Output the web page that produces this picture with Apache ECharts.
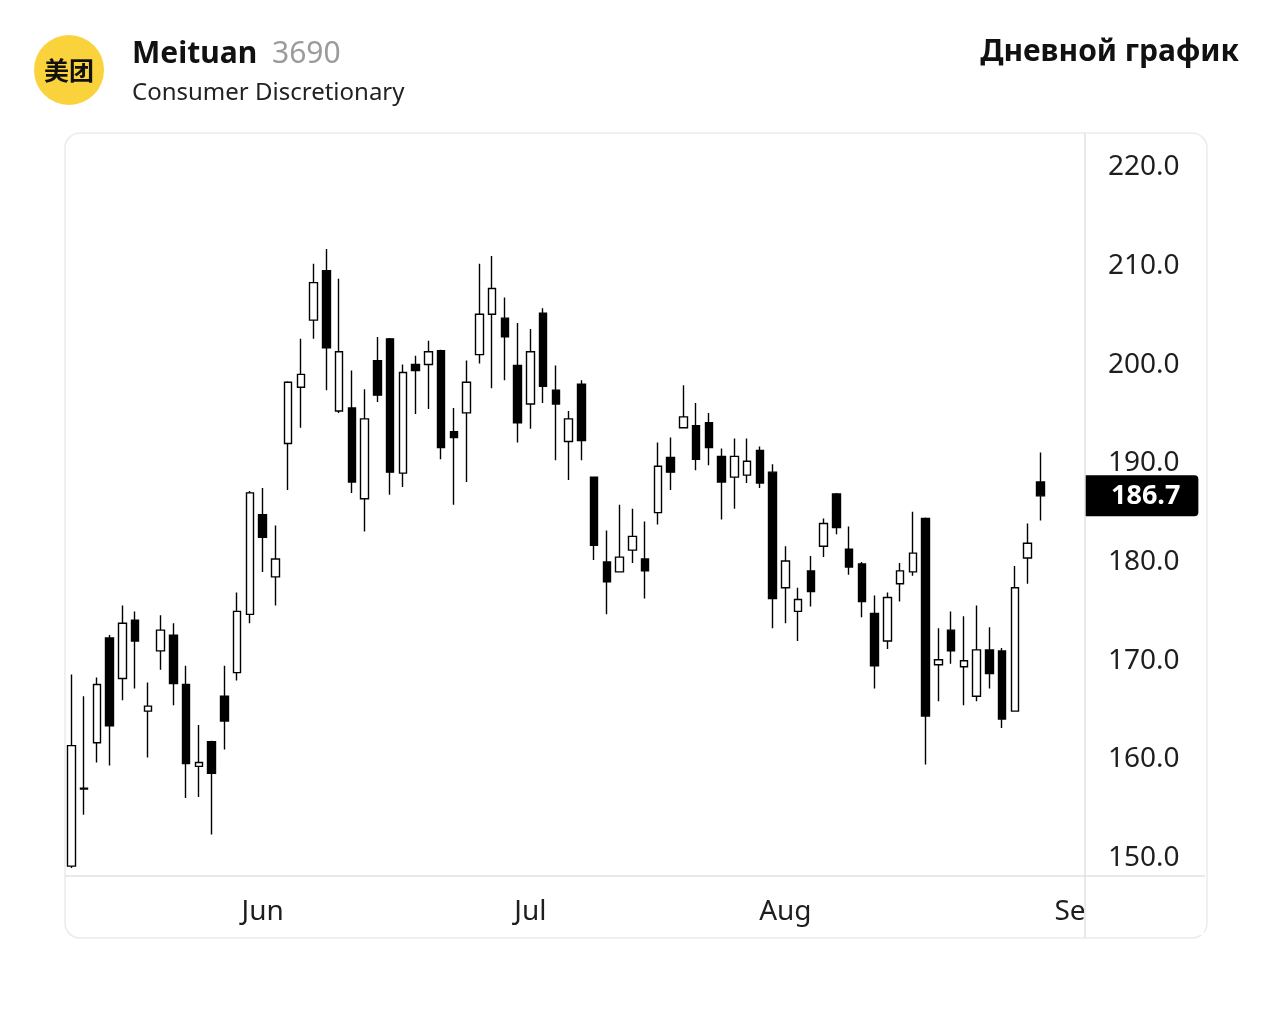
<!DOCTYPE html>
<html>
<head>
<meta charset="utf-8">
<title>Meituan 3690</title>
<script src="https://cdn.jsdelivr.net/npm/echarts@6/dist/echarts.min.js"></script>
<style>
  html, body { margin: 0; padding: 0; background: #fff; }
  #chart { width: 1273px; height: 1035px; }
</style>
</head>
<body>
<div id="chart"></div>
<script>
// торговые дни (последние 3 - пустые слоты справа)
var dates = [
  '2022-05-11','2022-05-12','2022-05-13','2022-05-16','2022-05-17','2022-05-18','2022-05-19','2022-05-20',
  '2022-05-23','2022-05-24','2022-05-25','2022-05-26','2022-05-27','2022-05-30','2022-05-31',
  '2022-06-01','2022-06-02','2022-06-06','2022-06-07','2022-06-08','2022-06-09','2022-06-10',
  '2022-06-13','2022-06-14','2022-06-15','2022-06-16','2022-06-17','2022-06-20','2022-06-21',
  '2022-06-22','2022-06-23','2022-06-24','2022-06-27','2022-06-28','2022-06-29','2022-06-30',
  '2022-07-04','2022-07-05','2022-07-06','2022-07-07','2022-07-08','2022-07-11','2022-07-12',
  '2022-07-13','2022-07-14','2022-07-15','2022-07-18','2022-07-19','2022-07-20','2022-07-21',
  '2022-07-22','2022-07-25','2022-07-26','2022-07-27','2022-07-28','2022-07-29',
  '2022-08-01','2022-08-02','2022-08-03','2022-08-04','2022-08-05','2022-08-08','2022-08-09',
  '2022-08-10','2022-08-11','2022-08-12','2022-08-15','2022-08-16','2022-08-17','2022-08-18',
  '2022-08-19','2022-08-22','2022-08-23','2022-08-24','2022-08-25','2022-08-26','2022-08-29',
  '2022-08-30','2022-08-31','2022-09-01'
];

var opens = [
  149.2,157.0,161.7,172.3,168.2,174.1,164.9,171.0,172.6,167.6,159.3,161.8,166.4,168.8,174.7,
  184.8,178.5,192.0,197.7,204.5,209.5,195.3,195.6,186.4,200.4,202.6,189.0,200.0,200.0,201.4,
  193.2,195.1,201.0,205.1,204.7,199.9,
  196.0,205.2,197.4,192.2,198.0,188.6,180.0,179.0,181.2,180.3,185.0,190.6,193.6,193.8,194.1,
  190.7,188.6,188.8,191.3,189.1,
  177.4,175.0,179.1,181.6,186.9,181.3,179.8,174.8,172.0,177.8,179.0,184.4,169.6,173.1,169.4,
  166.4,171.1,171.0,164.9,180.4,188.1
];
var closes = [
  161.4,157.1,167.6,163.4,173.8,172.0,165.4,173.1,167.7,159.6,159.7,158.6,163.9,175.0,187.0,
  182.5,180.3,198.2,199.0,208.3,201.7,201.3,188.1,194.5,196.9,189.1,199.2,199.4,201.3,191.6,
  192.6,198.2,205.1,207.7,202.8,194.1,
  201.3,197.8,196.0,194.5,192.3,181.7,178.0,180.5,182.6,179.1,189.7,189.1,194.7,190.4,191.6,
  188.1,190.7,190.2,188.0,176.3,
  180.1,176.2,177.0,183.9,183.5,179.5,176.0,169.5,176.4,179.1,180.9,164.4,170.1,171.0,170.0,
  171.1,168.7,164.1,177.4,181.9,186.7
];
var lows = [
  149.0,154.4,159.7,159.4,166.0,167.2,160.2,169.1,165.5,156.1,156.2,152.4,161.0,168.0,173.8,
  179.0,175.6,187.3,193.6,202.6,197.4,195.1,187.0,183.1,196.2,186.8,187.6,195.0,195.5,190.4,
  185.8,188.1,200.1,197.6,198.4,192.1,
  193.5,196.1,190.3,188.3,190.3,180.2,174.7,179.0,179.9,176.3,183.8,187.3,193.6,189.3,189.8,
  184.3,185.4,188.0,187.5,173.3,
  173.8,172.0,175.5,180.5,182.8,178.7,174.4,167.2,171.2,176.0,178.6,159.5,165.9,169.7,165.5,
  165.9,167.2,163.2,164.9,177.8,184.2
];
var highs = [
  168.6,166.4,168.3,172.6,175.6,175.0,167.8,174.6,173.8,169.5,163.5,161.9,169.5,176.9,187.2,
  187.5,183.7,198.3,202.6,210.2,211.7,208.7,199.4,197.5,202.8,202.7,200.0,200.9,202.4,201.5,
  195.6,200.4,210.2,211.0,206.8,204.2,
  203.6,205.7,199.9,195.3,198.4,188.6,183.2,185.8,185.4,184.1,192.1,192.6,197.9,196.1,195.1,
  191.5,192.5,192.5,191.7,189.9,
  181.6,177.4,180.6,184.4,187.0,183.6,180.0,176.6,176.9,179.9,185.1,184.5,173.3,175.0,174.5,
  175.6,173.4,171.3,179.6,183.9,191.1
];

var priceTicks = [150, 160, 170, 180, 190, 200, 210, 220];
var monthNames = ['Jan','Feb','Mar','Apr','May','Jun','Jul','Aug','Sep','Oct','Nov','Dec'];
var lastPrice = 186.7;

// ECharts: [open, close, lowest, highest]
var candles = opens.map(function (o, i) {
  return [o, closes[i], lows[i], highs[i]];
});

function firstOfMonth(idx) {
  if (idx === 0) return false;
  return dates[idx].slice(5, 7) !== dates[idx - 1].slice(5, 7);
}

var FONT = '"Noto Sans", "Open Sans", sans-serif';
var myChart = echarts.init(document.getElementById('chart'));

var option = {
  backgroundColor: '#fff',
  animation: false,
  textStyle: { fontFamily: FONT },
  grid: { left: 65, right: 188, top: 133, bottom: 159 },
  xAxis: {
    type: 'category',
    data: dates,
    boundaryGap: true,
    axisLine: { show: false },
    axisTick: { show: false },
    splitLine: { show: false },
    axisLabel: {
      interval: function (idx) { return firstOfMonth(idx); },
      formatter: function (v) { return monthNames[parseInt(v.slice(5, 7), 10) - 1]; },
      color: '#1e1e1e',
      fontSize: 28,
      margin: 22,
      fontFamily: FONT
    }
  },
  yAxis: {
    type: 'value',
    position: 'right',
    min: 148.2,
    max: 223.45,
    axisLine: { show: false },
    axisTick: { show: false },
    splitLine: { show: false },
    axisLabel: {
      customValues: priceTicks,
      formatter: function (v) { return v.toFixed(1); },
      color: '#1e1e1e',
      fontSize: 28,
      margin: 23,
      fontFamily: FONT
    }
  },
  series: [{
    type: 'candlestick',
    data: candles,
    barWidth: 8,
    itemStyle: {
      color: '#ffffff',
      color0: '#000000',
      borderColor: '#000000',
      borderColor0: '#000000',
      borderWidth: 1.4
    },
    markLine: {
      silent: true,
      symbol: 'none',
      lineStyle: { color: 'transparent', width: 0 },
      data: [{ yAxis: lastPrice }],
      label: {
        position: 'end',
        distance: 0,
        formatter: function () { return lastPrice.toFixed(1); },
        color: '#fff',
        backgroundColor: '#000',
        fontSize: 27,
        fontWeight: 'bold',
        fontFamily: FONT,
        padding: [8, 18, 6, 26],
        borderRadius: [0, 4, 4, 0]
      }
    }
  }],
  graphic: [
    // карточка графика
    { type: 'rect', z: -1, shape: { x: 65, y: 133, width: 1142, height: 805, r: 15 },
      style: { fill: '#fff', stroke: '#ebebeb', lineWidth: 1.5 } },
    // перекрываем хвост подписи Sep справа от оси
    { type: 'rect', z: 50, shape: { x: 1086, y: 880, width: 118, height: 55 },
      style: { fill: '#fff' } },
    { type: 'line', z: 60, shape: { x1: 1085, y1: 133, x2: 1085, y2: 938 },
      style: { stroke: '#e2e2e2', lineWidth: 1.5 } },
    { type: 'line', z: 60, shape: { x1: 65, y1: 876, x2: 1205, y2: 876 },
      style: { stroke: '#e2e2e2', lineWidth: 1.5 } },
    // шапка
    { type: 'circle', shape: { cx: 69, cy: 70, r: 35 }, style: { fill: '#fad23c' } },
    { type: 'text', x: 69, y: 70, style: { text: '美团', fill: '#111', font: 'bold 25px "Noto Sans CJK SC"',
      align: 'center', verticalAlign: 'middle' } },
    { type: 'text', x: 132, y: 54, style: { text: 'Meituan', fill: '#111', font: 'bold 30px ' + FONT,
      verticalAlign: 'middle' } },
    { type: 'text', x: 272, y: 54, style: { text: '3690', fill: '#9b9b9b', font: '30px ' + FONT,
      verticalAlign: 'middle' } },
    { type: 'text', x: 132, y: 93, style: { text: 'Consumer Discretionary', fill: '#222', font: '24px ' + FONT,
      verticalAlign: 'middle' } },
    { type: 'text', x: 1239, y: 52, style: { text: 'Дневной график', fill: '#111', font: 'bold 30px ' + FONT,
      align: 'right', verticalAlign: 'middle' } }
  ]
};

myChart.setOption(option);
</script>
</body>
</html>
